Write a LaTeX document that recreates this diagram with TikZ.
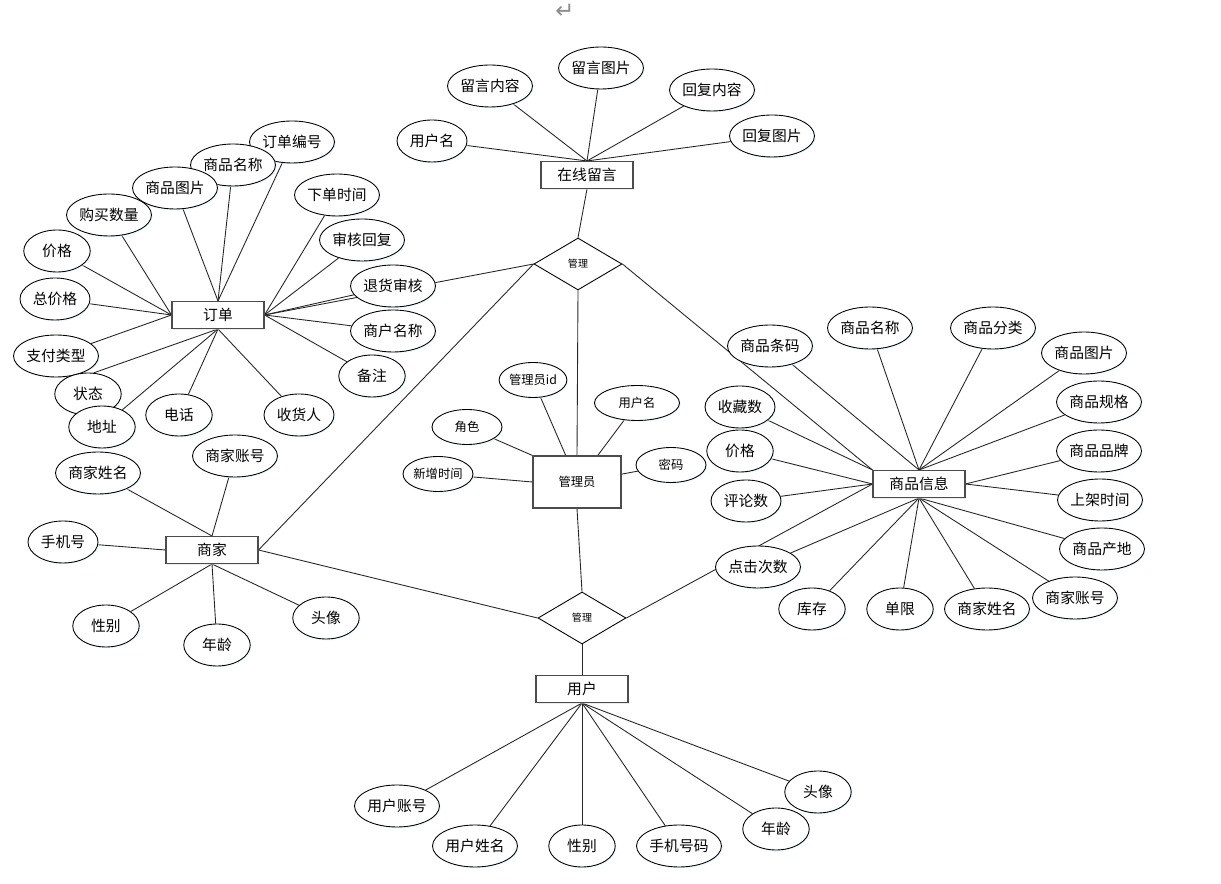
\documentclass[tikz,border=0pt]{standalone}
\usepackage{fontspec}
\setmainfont{Noto Sans CJK SC}
\newfontfamily\symfont{DejaVu Sans}
\usetikzlibrary{shapes.geometric,backgrounds,shadows}

\begin{document}
\begin{tikzpicture}[x=0.02cm, y=-0.02cm,
    every node/.style={font=\fontsize{8.4}{10}\selectfont},
    attrib/.style={draw, ellipse, fill=white, inner sep=0pt, line width=0.5pt, minimum width=1.7cm, minimum height=0.84cm,
        drop shadow={shadow xshift=0.8pt, shadow yshift=-0.8pt, fill=cyan!12}},
    twochar/.style={minimum width=1.33cm},
    threechar/.style={minimum width=1.4cm},
    adminattr/.style={minimum height=0.7cm, font=\fontsize{7}{8}\selectfont},
    entity/.style={draw=black!70, rectangle, fill=white, inner sep=0pt, line width=0.6pt, minimum width=1.84cm, minimum height=0.54cm,
        drop shadow={shadow xshift=0.6pt, shadow yshift=-0.6pt, fill=black!15}},
    relation/.style={draw, diamond, fill=white, inner sep=0pt, line width=0.5pt, minimum width=1.76cm, minimum height=1.04cm, font=\fontsize{5.7}{6}\selectfont},
    link/.style={draw=black!85, line width=0.5pt}]
\useasboundingbox (0,0) rectangle (1221,884);

\node[text=black!45, font=\symfont\fontsize{13}{14}\selectfont] (ret) at (565,11) {↵};

% online messages
\node[entity] (msg) at (587,175) {在线留言};
\node[attrib, threechar] (msgUser) at (432,141) {用户名};
\node[attrib] (msgText) at (490,86) {留言内容};
\node[attrib] (msgPic) at (601,68) {留言图片};
\node[attrib] (replyText) at (712,90) {回复内容};
\node[attrib] (replyPic) at (772,136) {回复图片};

% relations
\node[relation] (mg1) at (578,264) {管理};
\node[relation] (mg2) at (582,618) {管理};

% order
\node[entity] (order) at (218,315) {订单};
\node[attrib] (oNo) at (292,142) {订单编号};
\node[attrib] (oName) at (233,165) {商品名称};
\node[attrib] (oPic) at (175,188) {商品图片};
\node[attrib] (oQty) at (109,215) {购买数量};
\node[attrib, twochar] (oPrice) at (57,251) {价格};
\node[attrib, threechar] (oTotal) at (55,299) {总价格};
\node[attrib] (oPay) at (56,356) {支付类型};
\node[attrib, twochar] (oState) at (88,394) {状态};
\node[attrib, twochar] (oAddr) at (102,427) {地址};
\node[attrib, twochar] (oTel) at (179,415) {电话};
\node[attrib, threechar] (oRecv) at (299,415) {收货人};
\node[attrib, twochar] (oNote) at (372,376) {备注};
\node[attrib] (oMerch) at (393,331) {商户名称};
\node[attrib] (oReturn) at (393,286) {退货审核};
\node[attrib] (oReply) at (362,240) {审核回复};
\node[attrib] (oTime) at (337,195) {下单时间};

% merchant
\node[entity] (merchant) at (212,550) {商家};
\node[attrib] (mAcct) at (235,456) {商家账号};
\node[attrib] (mName) at (98,473) {商家姓名};
\node[attrib, threechar] (mPhone) at (63,542) {手机号};
\node[attrib, twochar] (mSex) at (106,626) {性别};
\node[attrib, twochar] (mAge) at (217,645) {年龄};
\node[attrib, twochar] (mAvatar) at (326,618) {头像};

% administrator
\node[entity, minimum width=1.76cm, minimum height=1.04cm, font=\fontsize{7}{8}\selectfont] (admin) at (577,482) {管理员};
\node[attrib, adminattr, minimum width=1.34cm] (aId) at (533,380) {管理员id};
\node[attrib, adminattr] (aUser) at (637,403) {用户名};
\node[attrib, adminattr, threechar] (aRole) at (467,427) {角色};
\node[attrib, adminattr, threechar] (aTime) at (438,474) {新增时间};
\node[attrib, adminattr, threechar] (aPwd) at (671,465) {密码};

% goods
\node[entity] (goods) at (919,484) {商品信息};
\node[attrib] (gCode) at (770,346) {商品条码};
\node[attrib] (gName) at (870,328) {商品名称};
\node[attrib] (gCat) at (993,328) {商品分类};
\node[attrib] (gPic) at (1084,353) {商品图片};
\node[attrib] (gSpec) at (1099,402) {商品规格};
\node[attrib] (gBrand) at (1099,451) {商品品牌};
\node[attrib] (gTime) at (1100,500) {上架时间};
\node[attrib] (gOrigin) at (1102,549) {商品产地};
\node[attrib] (gMAcct) at (1075,598) {商家账号};
\node[attrib] (gMName) at (987,609) {商家姓名};
\node[attrib, twochar] (gLimit) at (900,609) {单限};
\node[attrib, twochar] (gStock) at (812,609) {库存};
\node[attrib] (gClick) at (758,567) {点击次数};
\node[attrib, threechar] (gCmt) at (746,501) {评论数};
\node[attrib, twochar] (gPrice) at (740,451) {价格};
\node[attrib, threechar] (gFav) at (740,407) {收藏数};

% user
\node[entity] (user) at (582,689) {用户};
\node[attrib] (uAcct) at (397,806) {用户账号};
\node[attrib] (uName) at (475,846) {用户姓名};
\node[attrib, twochar] (uSex) at (582,846) {性别};
\node[attrib] (uPhone) at (679,846) {手机号码};
\node[attrib, twochar] (uAge) at (776,829) {年龄};
\node[attrib, twochar] (uAvatar) at (818,792) {头像};

\begin{scope}[on background layer]
    % online messages
    \draw[link] (msgUser) -- (msg.north);
    \draw[link] (msgText) -- (msg.north);
    \draw[link] (msgPic) -- (msg.north);
    \draw[link] (replyText) -- (msg.north);
    \draw[link] (replyPic) -- (msg.north);
    \draw[link] (msg.south) -- (mg1.north);
    % order
    \draw[link] (oNo) -- (order.north);
    \draw[link] (oName) -- (order.north);
    \draw[link] (oPic) -- (order.north);
    \draw[link] (oQty) -- (order.west);
    \draw[link] (oPrice) -- (order.west);
    \draw[link] (oTotal) -- (order.west);
    \draw[link] (oPay) -- (order.west);
    \draw[link] (oState.75) -- (order.south);
    \draw[link] (oAddr) -- (order.south);
    \draw[link] (oTel) -- (order.south);
    \draw[link] (oRecv) -- (order.south);
    \draw[link] (oTime) -- (order.east);
    \draw[link] (oReply) -- (order.east);
    \draw[link] (oReturn) -- (order.east);
    \draw[link] (oMerch) -- (order.east);
    \draw[link] (oNote) -- (order.east);
    \draw[link] (order.east) -- (mg1.west);
    % merchant
    \draw[link] (mAcct) -- (merchant.north);
    \draw[link] (mName) -- (merchant.north);
    \draw[link] (mPhone) -- (merchant.west);
    \draw[link] (mSex) -- (merchant.south);
    \draw[link] (mAge) -- (merchant.south);
    \draw[link] (mAvatar) -- (merchant.south);
    \draw[link] (merchant.east) -- (mg1.west);
    \draw[link] (merchant.east) -- (mg2.west);
    % administrator
    \draw[link] (aId) -- (admin.113);
    \draw[link] (aUser) -- (admin.52);
    \draw[link] (aRole) -- (admin.north west);
    \draw[link] (aTime) -- (admin.west);
    \draw[link] (aPwd) -- (admin.10);
    \draw[link] (mg1.south) -- (admin.north);
    \draw[link] (admin.south) -- (mg2.north);
    % goods
    \draw[link] (gCode) -- (goods.north);
    \draw[link] (gName) -- (goods.north);
    \draw[link] (gCat) -- (goods.north);
    \draw[link] (gPic) -- (goods.north);
    \draw[link] (gSpec) -- (goods.north);
    \draw[link] (gFav) -- (goods.north west);
    \draw[link] (mg1.east) -- (goods.north west);
    \draw[link] (gPrice) -- (goods.west);
    \draw[link] (gCmt) -- (goods.west);
    \draw[link] (mg2.east) -- (goods.west);
    \draw[link] (gClick) -- (goods.south);
    \draw[link] (gStock) -- (goods.south);
    \draw[link] (gLimit) -- (goods.south);
    \draw[link] (gMName) -- (goods.south);
    \draw[link] (gMAcct) -- (goods.south);
    \draw[link] (gOrigin) -- (goods.south);
    \draw[link] (gBrand) -- (goods.east);
    \draw[link] (gTime) -- (goods.east);
    % user
    \draw[link] (mg2.south) -- (user.north);
    \draw[link] (uAcct) -- (user.south);
    \draw[link] (uName) -- (user.south);
    \draw[link] (uSex) -- (user.south);
    \draw[link] (uPhone) -- (user.south);
    \draw[link] (uAge) -- (user.south);
    \draw[link] (uAvatar) -- (user.south);
\end{scope}
\end{tikzpicture}
\end{document}
